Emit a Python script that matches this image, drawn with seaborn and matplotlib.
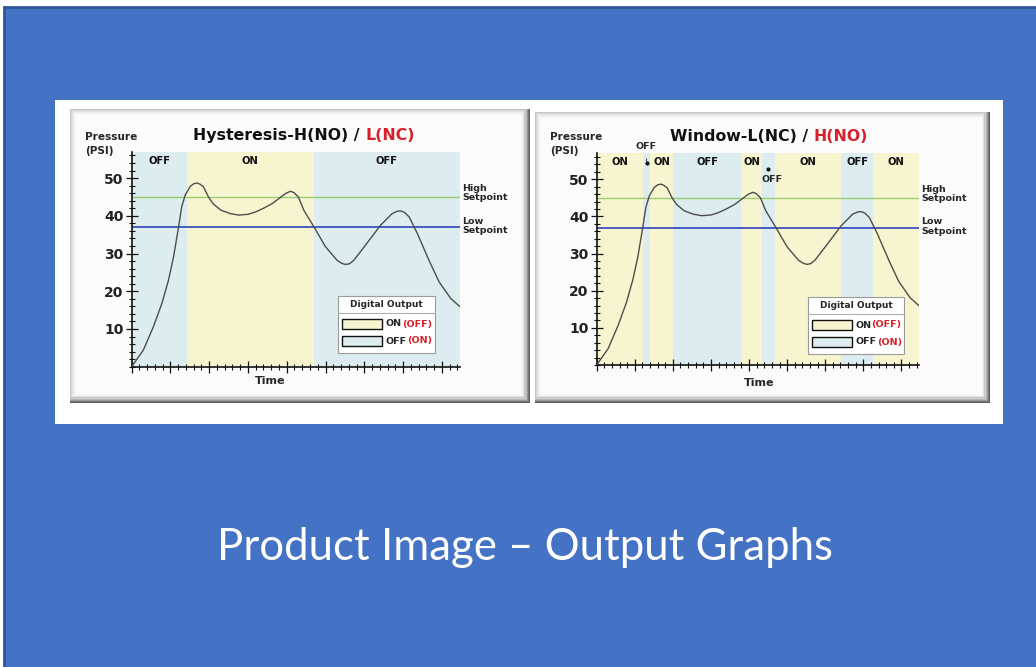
import numpy as np
import pandas as pd
import matplotlib.pyplot as plt
import seaborn as sns
from matplotlib.patches import Rectangle
from matplotlib.ticker import MultipleLocator
from matplotlib.transforms import blended_transform_factory

# 曲线数据
time = [0.0, 0.03, 0.30, 0.56, 0.78, 0.95, 1.08, 1.21, 1.29, 1.38,
        1.51, 1.60, 1.68, 1.76, 1.85, 1.98, 2.10, 2.30, 2.54, 2.76, 3.00,
        3.19, 3.40, 3.62, 3.85, 3.97, 4.09, 4.18, 4.30, 4.44, 4.70,
        5.00, 5.30, 5.42, 5.52, 5.62, 5.73, 6.03, 6.42, 6.72, 6.85,
        6.94, 7.04, 7.16, 7.37, 7.67, 7.93, 8.23, 8.47]
pressure = [0.0, 0.45, 4.4, 10.6, 16.8, 23.0, 29.1, 37.1, 42.4, 45.5,
            47.8, 48.5, 48.7, 48.4, 47.7, 45.0, 43.2, 41.5, 40.6, 40.2, 40.4,
            41.0, 42.0, 43.2, 45.0, 45.9, 46.5, 46.2, 45.0, 41.5, 37.1,
            31.8, 28.2, 27.4, 27.1, 27.3, 28.2, 32.2, 37.5, 40.6, 41.2,
            41.3, 40.9, 39.7, 35.3, 28.2, 22.5, 18.1, 15.9]

high_setpoint = 45
low_setpoint = 37
y_ticks = [10, 20, 30, 40, 50]

hyst_edges = [0.0, 1.42, 4.70, 8.47]
hyst_states = ['OFF', 'ON', 'OFF']
window_edges = [0.0, 1.22, 1.41, 2.01, 3.80, 4.34, 4.67, 6.42, 7.25, 8.47]
window_states = ['ON', 'OFF', 'ON', 'OFF', 'ON', 'OFF', 'ON', 'OFF', 'ON']

W, H = 1036, 667
fill = {'ON': '#f7f5cf', 'OFF': '#dcecef'}
red = '#d8202a'

sns.set_style('white')
plt.rcParams['font.family'] = ['DejaVu Sans']

fig = plt.figure(figsize=(W / 100, H / 100), dpi=100)
bg = fig.add_axes([0, 0, 1, 1])
bg.set_xlim(0, W)
bg.set_ylim(H, 0)
bg.axis('off')
P = bg.transData

# 幻灯片背景
bg.add_patch(Rectangle((4, 7), W, H, fc='#4472C4', ec='#2F5597', lw=2))
bg.add_patch(Rectangle((55, 100), 948, 324, fc='white', ec='none'))


def bevel(x0, y0, x1, y1):
    darks = ['#5a5a5a', '#787878', '#999999', '#b5b5b5', '#cccccc']
    for i, c in enumerate(darks):
        bg.add_patch(Rectangle((x0, y0), x1 - x0 - i, y1 - y0 - i, fc=c, ec='none'))
    lights = ['#c6c6c6', '#d6d6d6', '#e2e2e2', '#ebebeb', '#f2f2f2', '#f7f7f7', '#fbfbfb']
    for j, c in enumerate(lights):
        bg.add_patch(Rectangle((x0 + j, y0 + j), x1 - x0 - 5 - 1.6 * j,
                               y1 - y0 - 5 - 1.6 * j, fc=c, ec='none'))


bevel(70, 109, 530, 403)
bevel(535, 112, 990, 403)


def px_axes(x0, y0, x1, y1):
    return fig.add_axes([x0 / W, 1 - y1 / H, (x1 - x0) / W, (y1 - y0) / H])


def two_color(x, y, black, colored, size):
    t = bg.text(x, y, black, fontsize=size, fontweight='bold', ha='left', va='center', color='#111111')
    bg.annotate(colored, xy=(1, 0.5), xycoords=t, ha='left', va='center',
                fontsize=size, fontweight='bold', color=red)


def legend_box(ax, x0, y0, w):
    kw = dict(transform=P, clip_on=False)
    ax.add_patch(Rectangle((x0, y0), w, 57, fc='white', ec='#9a9a9a', lw=0.8, zorder=5, **kw))
    ax.plot([x0, x0 + w], [y0 + 16.7, y0 + 16.7], color='#b0b0b0', lw=0.8, zorder=6, **kw)
    ax.text(x0 + w / 2, y0 + 8.5, 'Digital Output', fontsize=6.5, fontweight='bold',
            ha='center', va='center', zorder=7, **kw)
    rows = [('ON', '(OFF)', fill['ON'], 23), ('OFF', '(ON)', fill['OFF'], 40)]
    for txt, rtxt, c, dy in rows:
        ax.add_patch(Rectangle((x0 + 3.5, y0 + dy), 40.5, 10, fc=c, ec='#111111', lw=1,
                               zorder=7, **kw))
        t = ax.text(x0 + 47.5, y0 + dy + 5, txt, fontsize=6.8, fontweight='bold',
                    ha='left', va='center', zorder=7, **kw)
        ax.annotate(rtxt, xy=(1, 0.5), xycoords=t, ha='left', va='center', fontsize=6.8,
                    fontweight='bold', color=red, zorder=7)


def draw_panel(ax, edges, states):
    for a, b, s in zip(edges[:-1], edges[1:], states):
        ax.axvspan(a, b, color=fill[s], lw=0, zorder=0)
    ax.axhline(high_setpoint, color='#9dcb74', lw=1, zorder=1)
    ax.axhline(low_setpoint, color='#3c50c0', lw=1.3, zorder=1)
    df = pd.DataFrame({'time': time, 'pressure': pressure})
    sns.lineplot(data=df, x='time', y='pressure', ax=ax, color='#4d4d4d', lw=1,
                 sort=False, zorder=3)
    ax.set_xlim(0, time[-1])
    ax.set_ylim(0, 57)
    ax.set_facecolor('none')
    for side in ['top', 'right']:
        ax.spines[side].set_visible(False)
    for side in ['left', 'bottom']:
        ax.spines[side].set_color('#111111')
        ax.spines[side].set_linewidth(1.2)
    ax.set_yticks(y_ticks)
    ax.yaxis.set_minor_locator(MultipleLocator(2))
    ax.xaxis.set_major_locator(MultipleLocator(1))
    ax.xaxis.set_minor_locator(MultipleLocator(0.2))
    ax.set_xticklabels([])
    ax.tick_params(which='both', bottom=True, left=True, top=False, right=False)
    ax.tick_params(which='major', direction='inout', length=9, width=0.9, color='#111111')
    ax.tick_params(which='minor', direction='inout', length=5, width=0.8, color='#111111')
    ax.tick_params(axis='y', which='major', pad=1.5, labelsize=10)
    for lab in ax.get_yticklabels():
        lab.set_fontweight('bold')
        lab.set_color('#222222')
    ax.set_xlabel('')
    ax.set_ylabel('')
    tr = blended_transform_factory(ax.transAxes, ax.transData)
    ax.text(1.006, high_setpoint + 1.0, 'High\nSetpoint', transform=tr, fontsize=6.8,
            fontweight='bold', ha='left', va='center', linespacing=1.05)
    ax.text(1.006, low_setpoint + 0.3, 'Low\nSetpoint', transform=tr, fontsize=6.8,
            fontweight='bold', ha='left', va='center', linespacing=1.05)


# 左图：Hysteresis
ax1 = px_axes(131.7, 151.7, 460, 366.7)
draw_panel(ax1, hyst_edges, hyst_states)
tr1 = blended_transform_factory(ax1.transData, ax1.transAxes)
for a, b, s in zip(hyst_edges[:-1], hyst_edges[1:], hyst_states):
    ax1.text((a + b) / 2, 0.958, s, transform=tr1, fontsize=7.2, fontweight='bold',
             ha='center', va='center', color='#111111')
legend_box(ax1, 338.3, 296, 96.7)

# 右图：Window
ax2 = px_axes(596.7, 153.3, 919.3, 365)
draw_panel(ax2, window_edges, window_states)
tr2 = blended_transform_factory(ax2.transData, ax2.transAxes)
narrow = []
for a, b, s in zip(window_edges[:-1], window_edges[1:], window_states):
    if b - a > 0.4:
        ax2.text((a + b) / 2, 0.957, s, transform=tr2, fontsize=7.2, fontweight='bold',
                 ha='center', va='center', color='#111111')
    else:
        narrow.append(((a + b) / 2, s))
# 窄区间标注
(m1, s1), (m2, s2) = narrow
ax2.plot([m1], [0.955], marker='o', ms=2, color='#111111', transform=tr2, clip_on=False)
ax2.annotate(s1, xy=(m1, 0.955), xycoords=tr2, xytext=(m1 - 0.02, 1.03), textcoords=tr2,
             fontsize=6.8, fontweight='bold', ha='center', va='center',
             arrowprops=dict(arrowstyle='-', lw=0.6, color='#111111', shrinkA=3, shrinkB=1))
ax2.plot([m2], [0.924], marker='o', ms=2, color='#111111', transform=tr2, clip_on=False)
ax2.text(m2 + 0.09, 0.874, s2, transform=tr2, fontsize=6.8, fontweight='bold',
         ha='center', va='center')
legend_box(ax2, 808, 297, 96)

# 标题与轴标签
two_color(193.3, 135.7, 'Hysteresis-H(NO) / ', 'L(NC)', 11.3)
two_color(670, 136.3, 'Window-L(NC) / ', 'H(NO)', 11.3)
for x in (85, 550):
    bg.text(x, 137, 'Pressure', fontsize=7.6, fontweight='bold', ha='left', va='center')
    bg.text(x, 150.5, '(PSI)', fontsize=7.6, fontweight='bold', ha='left', va='center')
bg.text(270, 380.7, 'Time', fontsize=8, fontweight='bold', ha='center', va='center')
bg.text(759.3, 382.7, 'Time', fontsize=8, fontweight='bold', ha='center', va='center')

# 标题文字
bg.text(525, 560, 'Product Image \u2013 Output Graphs', fontsize=31.5, color='white',
        ha='center', va='baseline', family=['Lato', 'DejaVu Sans'])

fig.savefig('out.png', dpi=100)
plt.close(fig)
